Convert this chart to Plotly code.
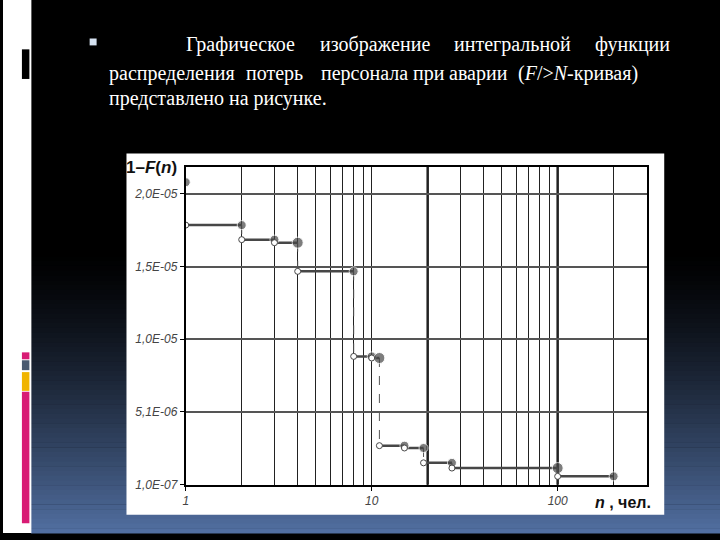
import plotly.graph_objects as go

# ---------------- data ----------------
start_n = [1]
start_value = [2.09e-5]
step_start = [1, 2, 3, 4, 8, 10, 11, 15, 19, 27, 100]
step_end = [2, 3, 4, 8, 10, 11, 15, 19, 27, 100, 200]
step_value = [1.795e-5, 1.695e-5, 1.674e-5, 1.477e-5, 8.92e-6, 8.81e-6,
              2.78e-6, 2.62e-6, 1.60e-6, 1.24e-6, 6.7e-7]
big_end_n = [4, 11, 100]

y_tickvals = [1e-7, 5.1e-6, 1.01e-5, 1.51e-5, 2.01e-5]
y_ticktext = ["1,0E-07", "5,1E-06", "1,0E-05", "1,5E-05", "2,0E-05"]
x_tickvals = [1, 10, 100]
x_ticktext = ["1", "10", "100"]
x_minor = [2, 3, 4, 5, 6, 7, 8, 9, 20, 30, 40, 50, 60, 70, 80, 90, 200]
x_thick = [20, 100]

line1_words = ["Графическое", "изображение", "интегральной", "функции"]
line2_words = ["распределения", "потерь", "персонала", "при", "аварии",
               "(<i>F</i>/&gt;<i>N</i>-кривая)"]
line3_text = "представлено на рисунке."

W, H = 720, 540
def px(x):
    return x / W
def py(y):
    return 1 - y / H

fig = go.Figure()

# horizontal step segments
hx, hy = [], []
for s, e, v in zip(step_start, step_end, step_value):
    hx += [s, e, None]
    hy += [v, v, None]
fig.add_trace(go.Scatter(x=hx, y=hy, mode="lines",
                         line=dict(color="#474747", width=2.5),
                         hoverinfo="skip", showlegend=False))

# vertical dashed connectors
vx, vy = [], []
for i in range(1, len(step_start)):
    if step_start[i] == step_end[i - 1]:
        vx += [step_start[i], step_start[i], None]
        vy += [step_value[i - 1], step_value[i], None]
fig.add_trace(go.Scatter(x=vx, y=vy, mode="lines",
                         line=dict(color="#555555", width=1, dash="dash"),
                         hoverinfo="skip", showlegend=False))

# filled end markers
sizes = [11 if e in big_end_n else 9 for e in step_end]
fig.add_trace(go.Scatter(x=start_n + step_end, y=start_value + step_value,
                         mode="markers",
                         marker=dict(color="#474747", size=[9] + sizes),
                         showlegend=False))
# open start markers
fig.add_trace(go.Scatter(x=step_start, y=step_value, mode="markers",
                         marker=dict(color="white", size=6,
                                     line=dict(color="#474747", width=1)),
                         showlegend=False))

shapes = []
# background gradient (bands)
n_b = 60
y0g = 250
for i in range(n_b):
    ya = y0g + (H - y0g) * i / n_b
    yb = y0g + (H - y0g) * (i + 1) / n_b + 0.5
    t = ((i + 0.5) / n_b) ** 1.4
    c = "rgb(%d,%d,%d)" % (82 * t, 112 * t, 162 * t)
    shapes.append(dict(type="rect", xref="paper", yref="paper", layer="below",
                       x0=px(28), x1=1, y0=py(yb), y1=py(ya),
                       fillcolor=c, line=dict(width=0)))
# left white strip
shapes.append(dict(type="rect", xref="paper", yref="paper", layer="below",
                   x0=0, x1=px(28.5), y0=0, y1=1, fillcolor="white",
                   line=dict(width=0)))
# left decorations
deco = [(50, 80, "#000000"), (357, 364, "#d81b74"), (365, 375, "#4a5a70"),
        (377, 396, "#f0b400"), (397, 530, "#d81b74")]
for ya, yb, c in deco:
    shapes.append(dict(type="rect", xref="paper", yref="paper", layer="below",
                       x0=px(19), x1=px(26.5), y0=py(yb), y1=py(ya),
                       fillcolor=c, line=dict(width=0)))
# bullet
shapes.append(dict(type="rect", xref="paper", yref="paper", layer="below",
                   x0=px(87), x1=px(94), y0=py(46), y1=py(39),
                   fillcolor="#d6e2f2", line=dict(width=0)))
# chart white box
shapes.append(dict(type="rect", xref="paper", yref="paper", layer="below",
                   x0=px(124), x1=px(664), y0=py(521.5), y1=py(155.5),
                   fillcolor="white", line=dict(width=0)))
# thick vertical grid lines
for xv in x_thick:
    shapes.append(dict(type="line", xref="x", yref="y domain", layer="below",
                       x0=xv, x1=xv, y0=0, y1=1,
                       line=dict(color="#222222", width=2.5)))

annotations = []
serif = dict(family="Liberation Serif, Times New Roman, serif", size=20,
             color="white")
for w, x in zip(line1_words, [182, 316, 451, 592]):
    annotations.append(dict(text=w, x=px(x), y=py(45), xref="paper",
                            yref="paper", xanchor="left", yanchor="middle",
                            showarrow=False, font=serif))
for w, x in zip(line2_words, [104, 242, 317, 410, 446, 515]):
    annotations.append(dict(text=w, x=px(x), y=py(74), xref="paper",
                            yref="paper", xanchor="left", yanchor="middle",
                            showarrow=False, font=serif))
annotations.append(dict(text=line3_text, x=px(104), y=py(100), xref="paper",
                        yref="paper", xanchor="left", yanchor="middle",
                        showarrow=False, font=serif))
# axis titles
annotations.append(dict(text="<b>1–<i>F</i>(<i>n</i>)</b>", x=px(122), y=py(170),
                        xref="paper", yref="paper", xanchor="left",
                        yanchor="middle", showarrow=False,
                        font=dict(family="Liberation Sans, Arial", size=17,
                                  color="#111111")))
annotations.append(dict(text="<b><i>n</i> , чел.</b>", x=px(592), y=py(509),
                        xref="paper", yref="paper", xanchor="left",
                        yanchor="middle", showarrow=False,
                        font=dict(family="Liberation Sans, Arial", size=16,
                                  color="#111111")))

fig.update_layout(
    width=W, height=H,
    margin=dict(l=0, r=0, t=0, b=0),
    paper_bgcolor="black",
    plot_bgcolor="rgba(0,0,0,0)",
    shapes=shapes,
    annotations=annotations,
    xaxis=dict(type="log", range=[0, 2.482],
               domain=[px(183.5), px(647)],
               tickvals=x_tickvals,
               ticktext=["<i>%s</i>" % t for t in x_ticktext],
               tickfont=dict(family="Liberation Sans, Arial", size=12,
                             color="#444444"),
               ticks="outside", ticklen=4, tickcolor="black",
               showgrid=True, gridcolor="#222222", gridwidth=1,
               minor=dict(tickvals=x_minor, showgrid=True,
                          gridcolor="#222222", gridwidth=1, ticks=""),
               showline=True, linecolor="black", linewidth=2, mirror=True,
               zeroline=False),
    yaxis=dict(range=[1e-7, 2.196e-5],
               domain=[py(491), py(169)],
               tickvals=y_tickvals,
               ticktext=["<i>%s</i>" % t for t in y_ticktext],
               tickfont=dict(family="Liberation Sans, Arial", size=12,
                             color="#444444"),
               ticks="outside", ticklen=4, tickcolor="black",
               showgrid=True, gridcolor="#555555", gridwidth=2,
               showline=True, linecolor="black", linewidth=2, mirror=True,
               zeroline=False),
)

fig.write_html("out.html", config={"displayModeBar": False},
               post_script="document.body.style.margin='0';"
                           "document.body.style.overflow='hidden';")
